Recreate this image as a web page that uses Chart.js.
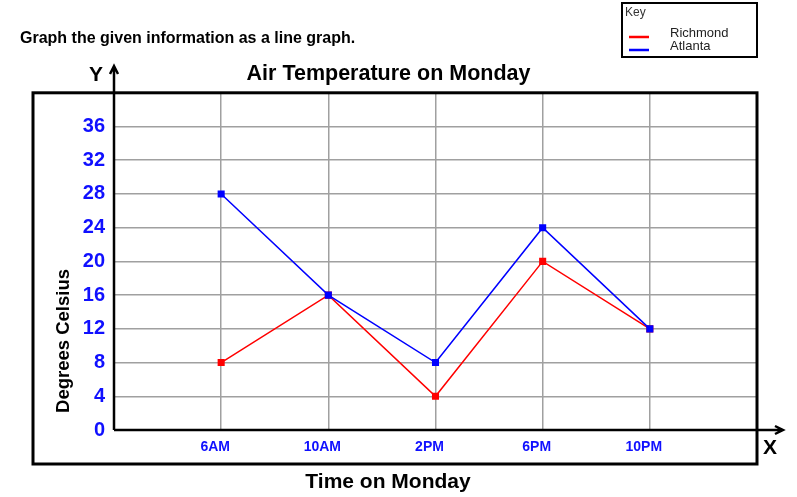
<!DOCTYPE html>
<html>
<head>
<meta charset="utf-8">
<script src="https://cdn.jsdelivr.net/npm/chart.js@4/dist/chart.umd.min.js"></script>
<style>
  body { margin: 0; background: #fff; }
  canvas { display: block; }
</style>
</head>
<body>
<canvas id="grafico" width="797" height="497"></canvas>
<script>
const categorias = ['6AM', '10AM', '2PM', '6PM', '10PM']; // horários do eixo X
const richmond = [8, 16, 4, 20, 12]; // temperaturas de Richmond
const atlanta = [28, 16, 8, 24, 12]; // temperaturas de Atlanta
const ticksY = [0, 4, 8, 12, 16, 20, 24, 28, 32, 36]; // rótulos do eixo Y

const fonte = 'Liberation Sans, Arial, sans-serif';

// pontos {x, y} a partir dos arrays
const pontos = (serie) => serie.map((v, i) => ({ x: i, y: v }));

// desenha caixa, setas, textos e a legenda ("Key")
const extras = {
    id: 'extras',
    afterDraw(chart) {
        const c = chart.ctx;
        const a = chart.chartArea;
        c.save();
        c.strokeStyle = '#000';
        c.fillStyle = '#000';

        // caixa externa
        c.lineWidth = 3;
        c.strokeRect(33, a.top, a.right - 33, 464 - a.top);

        // eixo Y com seta
        c.lineWidth = 2.5;
        c.beginPath();
        c.moveTo(a.left, a.bottom);
        c.lineTo(a.left, 66);
        c.moveTo(a.left - 4, 74);
        c.lineTo(a.left, 66);
        c.lineTo(a.left + 4, 74);
        // eixo X com seta
        c.moveTo(a.left, a.bottom);
        c.lineTo(783, a.bottom);
        c.moveTo(775, a.bottom - 4);
        c.lineTo(783, a.bottom);
        c.lineTo(775, a.bottom + 4);
        c.stroke();

        c.textBaseline = 'middle';
        c.font = 'bold 21px ' + fonte;
        c.textAlign = 'center';
        c.fillText('Y', 96, 75);
        c.fillText('X', 770, 448);

        c.font = 'bold 16px ' + fonte;
        c.textAlign = 'left';
        c.fillText('Graph the given information as a line graph.', 20, 39);

        c.font = 'bold 21px ' + fonte;
        c.textAlign = 'center';
        c.fillText('Time on Monday', 388, 482);

        c.save();
        c.translate(64, 341);
        c.rotate(-Math.PI / 2);
        c.font = 'bold 18.5px ' + fonte;
        c.fillText('Degrees Celsius', 0, 0);
        c.restore();

        // legenda
        c.lineWidth = 2;
        c.strokeRect(622, 3, 135, 54);
        c.textAlign = 'left';
        c.font = '12px ' + fonte;
        c.fillStyle = '#333';
        c.fillText('Key', 625, 13);
        c.font = '13px ' + fonte;
        const linhas = [37, 50];
        [chart.data.datasets[0], chart.data.datasets[1]].forEach((ds, i) => {
            c.strokeStyle = ds.borderColor;
            c.lineWidth = 2.5;
            c.beginPath();
            c.moveTo(629, linhas[i]);
            c.lineTo(649, linhas[i]);
            c.stroke();
            c.fillStyle = '#222';
            c.fillText(ds.label, 670, linhas[i] - 4);
        });
        c.restore();
    }
};

new Chart(document.getElementById('grafico'), {
    type: 'line',
    data: {
        datasets: [{
            label: 'Richmond',
            data: pontos(richmond),
            borderColor: '#ff0000',
            backgroundColor: '#ff0000',
            borderWidth: 1.5,
            pointStyle: 'rect',
            pointRadius: 5,
            pointBorderWidth: 0,
            order: 2
        }, {
            label: 'Atlanta',
            data: pontos(atlanta),
            borderColor: '#0000ff',
            backgroundColor: '#0000ff',
            borderWidth: 1.5,
            pointStyle: 'rect',
            pointRadius: 5,
            pointBorderWidth: 0,
            order: 1
        }]
    },
    options: {
        responsive: false,
        animation: false,
        layout: { padding: { left: 20, right: 40, top: 0, bottom: 0 } },
        plugins: {
            legend: { display: false },
            tooltip: { enabled: false },
            title: {
                display: true,
                text: 'Air Temperature on Monday',
                color: '#000',
                font: { family: fonte, size: 21.5, weight: 'bold' },
                padding: { top: 61, bottom: 6 }
            }
        },
        scales: {
            x: {
                type: 'linear',
                min: -1,
                max: categorias.length,
                afterFit: (s) => { s.height = 67; },
                grid: { color: '#a0a0a0', lineWidth: 1.5, drawTicks: false },
                border: { display: false },
                ticks: {
                    stepSize: 1,
                    autoSkip: false,
                    maxRotation: 0,
                    padding: 9,
                    labelOffset: -6,
                    color: '#1010ff',
                    font: { family: fonte, size: 14, weight: 'bold' },
                    callback: (v) => categorias[v] ?? ''
                }
            },
            y: {
                min: 0,
                max: 40,
                afterFit: (s) => { s.width = 94; },
                grid: { color: '#a0a0a0', lineWidth: 1.5, drawTicks: false },
                border: { display: false },
                ticks: {
                    stepSize: 4,
                    padding: 9,
                    color: '#1010ff',
                    font: { family: fonte, size: 20, weight: 'bold' },
                    callback: (v) => ticksY.includes(v) ? v : ''
                }
            }
        }
    },
    plugins: [extras]
});
</script>
</body>
</html>
